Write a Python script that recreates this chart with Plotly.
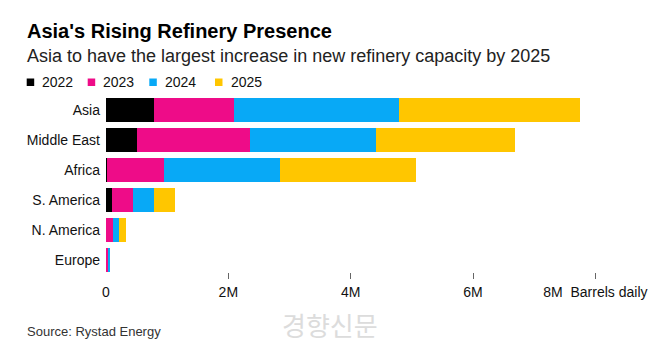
import plotly.graph_objects as go

categories = ["Asia", "Middle East", "Africa", "S. America", "N. America", "Europe"]
years = ["2022", "2023", "2024", "2025"]
# values in million barrels daily
v2022 = [0.78, 0.51, 0.02, 0.10, 0.0, 0.0]
v2023 = [1.31, 1.85, 0.92, 0.34, 0.12, 0.03]
v2024 = [2.70, 2.06, 1.91, 0.34, 0.09, 0.035]
v2025 = [2.96, 2.26, 2.22, 0.35, 0.12, 0.0]
series = [v2022, v2023, v2024, v2025]
colors = ["#000000", "#EE0C88", "#08A9F6", "#FFC600"]

tick_vals = [0, 2, 4, 6, 8]
tick_text = ["0", "2M", "4M", "6M", "8M  Barrels daily"]
tick_marks = [2, 4, 6, 8]

W, H = 657, 363
L, R, T, B = 106, 25, 95, 91
PW, PH = W - L - R, H - T - B
XMAX = PW / 61.17


def px(x):
    return (x - L) / PW


def py(y):
    return (H - B - y) / PH


FONT = "Liberation Sans, Arial, sans-serif"

fig = go.Figure()
for name, vals, c in zip(years, series, colors):
    fig.add_trace(go.Bar(
        y=categories, x=vals, name=name, orientation="h",
        marker=dict(color=c, line=dict(width=0)),
        showlegend=False,
    ))

# invisible trace for the second axis carrying tick marks
fig.add_trace(go.Scatter(x=[None], y=[None], xaxis="x2", yaxis="y",
                         showlegend=False, hoverinfo="skip"))

annotations = [
    dict(text="<b>Asia's Rising Refinery Presence</b>", x=px(25), y=py(31),
         xref="paper", yref="paper", xanchor="left", yanchor="middle",
         showarrow=False, font=dict(size=20, color="#000", family=FONT)),
    dict(text="Asia to have the largest increase in new refinery capacity by 2025",
         x=px(25), y=py(56), xref="paper", yref="paper", xanchor="left",
         yanchor="middle", showarrow=False,
         font=dict(size=18, color="#222", family=FONT)),
    dict(text="Source: Rystad Energy", x=px(25), y=py(331), xref="paper",
         yref="paper", xanchor="left", yanchor="middle", showarrow=False,
         font=dict(size=13, color="#333", family=FONT)),
    dict(text="경향신문", x=px(330), y=py(324), xref="paper", yref="paper",
         xanchor="center", yanchor="middle", showarrow=False,
         font=dict(size=26, color="#dcdcdc", family="Noto Sans CJK KR")),
]

shapes = []
sq_left = [26.7, 87.7, 149.3, 215.0]
for name, c, sx in zip(years, colors, sq_left):
    shapes.append(dict(type="rect", xref="paper", yref="paper",
                       x0=px(sx), x1=px(sx + 7.5), y0=py(86), y1=py(78.5),
                       fillcolor=c, line=dict(width=0)))
    annotations.append(dict(text=name, x=px(sx + 13.5), y=py(82), xref="paper",
                            yref="paper", xanchor="left", yanchor="middle",
                            showarrow=False,
                            font=dict(size=14, color="#111", family=FONT)))

fig.update_layout(
    width=W, height=H,
    margin=dict(l=L, r=R, t=T, b=B),
    barmode="stack", bargap=0.22,
    paper_bgcolor="white", plot_bgcolor="white",
    font=dict(family=FONT, size=14, color="#111"),
    xaxis=dict(range=[0, XMAX], tickvals=tick_vals, ticktext=tick_text,
               showgrid=False, zeroline=False, showline=False,
               ticks="outside", ticklen=7, tickcolor="rgba(0,0,0,0)",
               automargin=False,
               tickfont=dict(size=14, color="#111"), fixedrange=True),
    xaxis2=dict(range=[0, XMAX], overlaying="x", side="bottom", anchor="y",
                tickvals=tick_marks, showticklabels=False, ticks="outside",
                ticklen=6, tickwidth=1, tickcolor="#666", showgrid=False,
                zeroline=False, showline=False),
    yaxis=dict(range=[5.4, -0.5], showgrid=False, zeroline=False,
               showline=False, ticks="", ticklabelstandoff=5, automargin=False,
               tickfont=dict(size=14, color="#111")),
    annotations=annotations,
    shapes=shapes,
)

fig.write_html("out.html", config={"displayModeBar": False},
               post_script="document.body.style.margin='0';")
